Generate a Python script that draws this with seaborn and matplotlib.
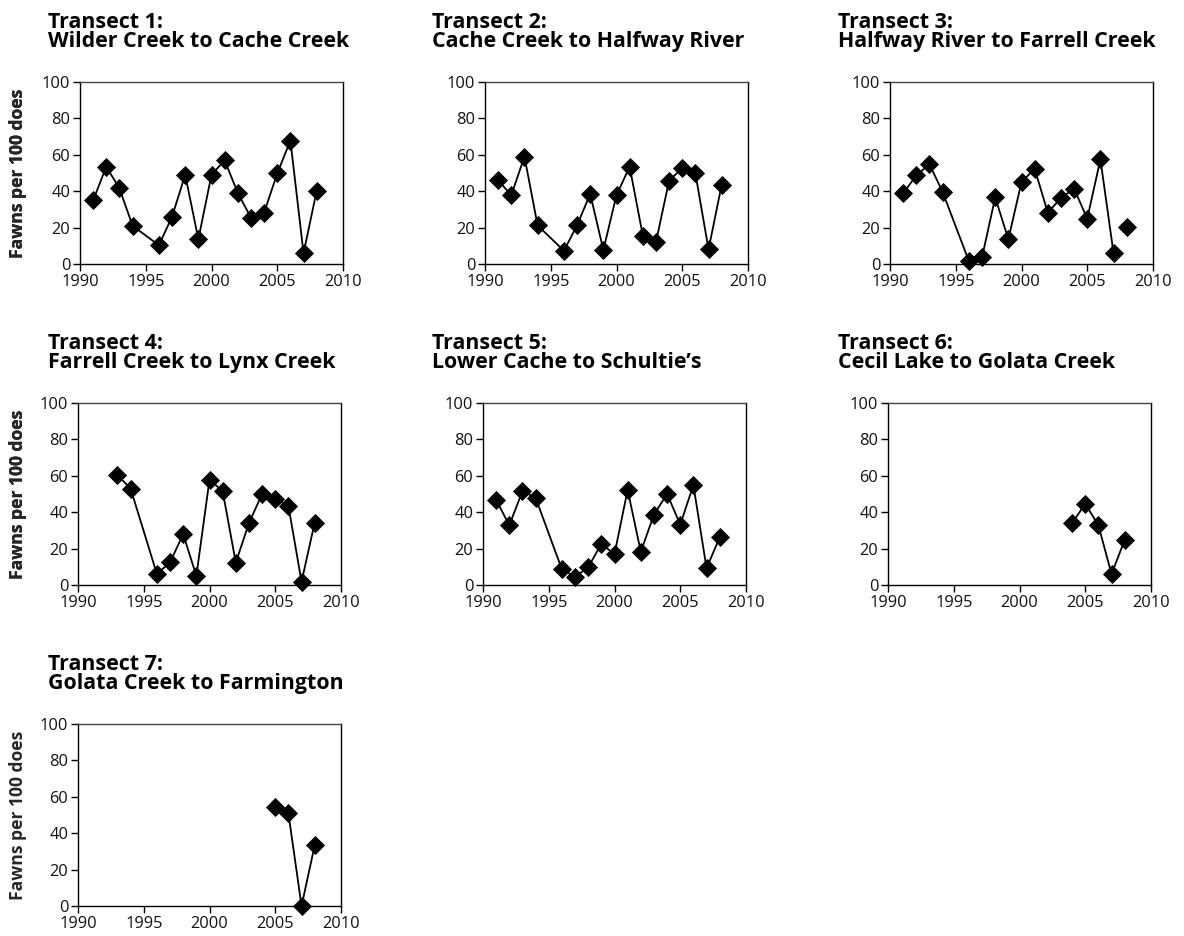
import numpy as np
import pandas as pd
import matplotlib
matplotlib.use("Agg")
import matplotlib.pyplot as plt
import seaborn as sns

# Fawn:doe ratios by transect (fawns per 100 does)
t1_years = [1991, 1992, 1993, 1994, 1996, 1997, 1998, 1999, 2000, 2001, 2002, 2003, 2004, 2005, 2006, 2007, 2008]
t1_ratio = [35, 53.5, 41.5, 21, 10.3, 26, 49, 13.6, 49, 57, 39, 25.5, 28.2, 49.8, 67.8, 5.9, 40.3]

t2_years = [1991, 1992, 1993, 1994, 1996, 1997, 1998, 1999, 2000, 2001, 2002, 2003, 2004, 2005, 2006, 2007, 2008]
t2_ratio = [46, 37.8, 59, 21.2, 7.3, 21.2, 38.5, 7.7, 37.8, 53.5, 15.6, 12, 45.8, 52.7, 49.8, 8, 43.6]

t3_years = [1991, 1992, 1993, 1994, 1996, 1997, 1998, 1999, 2000, 2001, 2002, 2003, 2004, 2005, 2006, 2007, 2008]
t3_ratio = [38.8, 48.7, 54.8, 39.6, 1.6, 3.7, 36.6, 13.6, 45, 52.4, 28.2, 36.3, 41.4, 24.9, 57.5, 5.9, 20.5]
t3_segment = [0] * 16 + [1]

t4_years = [1993, 1994, 1996, 1997, 1998, 1999, 2000, 2001, 2002, 2003, 2004, 2005, 2006, 2007, 2008]
t4_ratio = [60.4, 53, 6, 12.5, 27.9, 5, 57.8, 51.6, 12.3, 34, 50, 47.5, 43.5, 1.8, 34.3]

t5_years = [1991, 1992, 1993, 1994, 1996, 1997, 1998, 1999, 2000, 2001, 2002, 2003, 2004, 2005, 2006, 2007, 2008]
t5_ratio = [46.8, 32.8, 51.6, 47.9, 8.6, 4.6, 9.7, 22.6, 16.9, 52.3, 18.2, 38.7, 50, 33.2, 54.9, 9.2, 26.2]

t6_years = [2004, 2005, 2006, 2007, 2008]
t6_ratio = [34, 44.6, 32.8, 6, 24.8]

t7_years = [2005, 2006, 2007, 2008]
t7_ratio = [54.6, 50.9, 0, 33.3]

title_heads = ["Transect 1:", "Transect 2:", "Transect 3:", "Transect 4:",
               "Transect 5:", "Transect 6:", "Transect 7:"]
title_reaches = [
    "Wilder Creek to Cache Creek",
    "Cache Creek to Halfway River",
    "Halfway River to Farrell Creek",
    "Farrell Creek to Lynx Creek",
    "Lower Cache to Schultie\u2019s",
    "Cecil Lake to Golata Creek",
    "Golata Creek to Farmington",
]
y_label = "Fawns per 100 does"
x_ticks = [1990, 1995, 2000, 2005, 2010]
y_ticks = [0, 20, 40, 60, 80, 100]

series = [
    (t1_years, t1_ratio, None),
    (t2_years, t2_ratio, None),
    (t3_years, t3_ratio, t3_segment),
    (t4_years, t4_ratio, None),
    (t5_years, t5_ratio, None),
    (t6_years, t6_ratio, None),
    (t7_years, t7_ratio, None),
]

sns.set_theme(style="white")
plt.rcParams["font.family"] = ["Open Sans", "DejaVu Sans"]

W, H = 1184, 936
fig = plt.figure(figsize=(W / 100, H / 100), dpi=100)

# axes boxes in pixels: left, top; title left edge per panel
boxes = [
    (80, 82), (485, 82), (890, 82),
    (78, 403), (483, 403), (888, 403),
    (78, 724),
]
title_x = [48, 432, 838, 48, 432, 838, 48]
aw, ah = 263, 182

for i, ((years, ratio, seg), (left, top)) in enumerate(zip(series, boxes)):
    ax = fig.add_axes([left / W, 1 - (top + ah) / H, aw / W, ah / H])
    df = pd.DataFrame({"year": years, "ratio": ratio,
                       "seg": seg if seg is not None else [0] * len(years)})
    sns.lineplot(data=df, x="year", y="ratio", units="seg", estimator=None,
                 color="black", lw=1.3, ax=ax, legend=False)
    sns.scatterplot(data=df, x="year", y="ratio", marker="D", s=95,
                    color="black", edgecolor="black", linewidth=0, ax=ax,
                    legend=False, zorder=3)
    ax.set_xlim(1990, 2010)
    ax.set_ylim(0, 100)
    ax.set_xticks(x_ticks)
    ax.set_yticks(y_ticks)
    ax.tick_params(axis="both", direction="out", length=5, width=1,
                   color="black", labelsize=11.8, pad=2,
                   bottom=True, left=True, top=False, right=False)
    for side in ["left", "bottom", "right"]:
        ax.spines[side].set_color("black")
        ax.spines[side].set_linewidth(1.0)
    ax.spines["top"].set_color("#444444")
    ax.spines["top"].set_linewidth(1.0)
    for lab in ax.get_xticklabels() + ax.get_yticklabels():
        lab.set_color("#111111")
    ax.set_xlabel("")
    ax.set_ylabel(y_label, fontsize=12.6, fontweight="bold", va="center")
    ax.yaxis.set_label_coords((18 - left) / aw, 0.5)
    for coll in ax.collections:
        coll.set_clip_on(False)
    tx = title_x[i] / W
    fig.text(tx, 1 - (top - 54) / H, title_heads[i], fontsize=15.4,
             fontweight="bold", ha="left", va="baseline", color="black")
    fig.text(tx, 1 - (top - 35) / H, title_reaches[i], fontsize=15.4,
             fontweight="bold", ha="left", va="baseline", color="black")

fig.savefig("out.png", dpi=100)
